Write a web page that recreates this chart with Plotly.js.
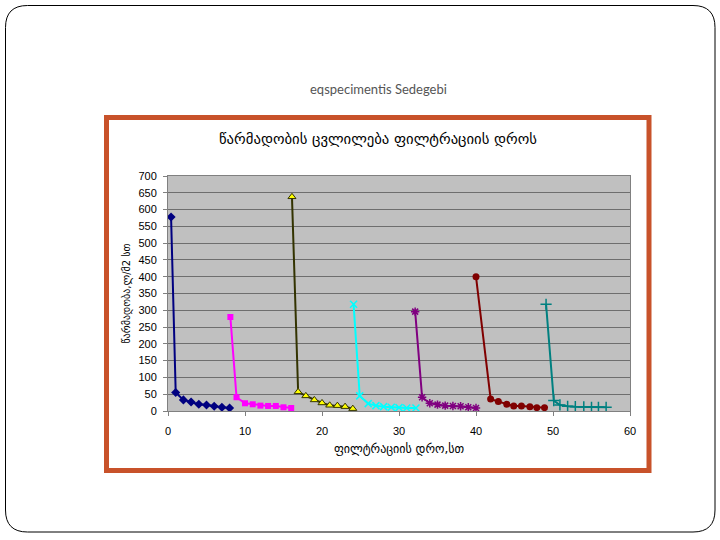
<!DOCTYPE html>
<html>
<head>
<meta charset="utf-8">
<script src="https://cdn.plot.ly/plotly-3.0.1.min.js"></script>
<style>
html,body{margin:0;padding:0;background:#fff;}
#chart{width:720px;height:540px;}
</style>
</head>
<body>
<div id="chart"></div>
<script>
// ---- data ----
const seriesNames = ["1", "2", "3", "4", "5", "6", "7"];
const x1 = [0.4, 1, 2, 3, 4, 5, 6, 7, 8];
const y1 = [578, 55, 33, 27, 20, 18, 14, 11, 9];
const x2 = [8.1, 8.9, 10, 11, 12, 13, 14, 15, 16];
const y2 = [280, 41, 23, 20, 16, 15, 15, 11, 9];
const x3 = [16.1, 16.9, 17.9, 19, 20, 21, 22, 23, 24];
const y3 = [638, 57, 45, 33, 24, 17, 16, 13, 7];
const x4 = [24.1, 24.9, 26, 27, 28, 29, 30, 31, 32.2];
const y4 = [318, 45, 22, 16, 13, 11, 10, 9, 9];
const x5 = [32.1, 33, 34, 35, 36, 37, 38, 39, 40];
const y5 = [296, 41, 23, 19, 16, 15, 14, 11, 9];
const x6 = [40, 41.9, 42.9, 44, 44.9, 45.9, 47, 47.9, 48.9];
const y6 = [400, 36, 28, 20, 15, 15, 13, 10, 10];
const x7 = [49.1, 50.1, 50.9, 51.9, 52.9, 54, 55, 55.9, 56.9];
const y7 = [318, 31, 18, 14, 13, 12, 11, 11, 11];

const slideTitle = "eqspecimentis Sedegebi";
const chartTitle = "წარმადობის ცვლილება ფილტრაციის დროს";
const xTitle = "ფილტრაციის დრო,სთ";
const yTitle = "წარმადობა,ლ/მ2 სთ";

// ---- layout helpers (pixel -> paper) ----
const L = 168, R = 630, T = 176, B = 411;
const px = v => (v - L) / (R - L);
const py = v => (B - v) / (B - T);

function roundRect(x0, y0, x1, y1, r) {
  return "M" + px(x0 + r) + "," + py(y0) +
    " L" + px(x1 - r) + "," + py(y0) +
    " Q" + px(x1) + "," + py(y0) + " " + px(x1) + "," + py(y0 + r) +
    " L" + px(x1) + "," + py(y1 - r) +
    " Q" + px(x1) + "," + py(y1) + " " + px(x1 - r) + "," + py(y1) +
    " L" + px(x0 + r) + "," + py(y1) +
    " Q" + px(x0) + "," + py(y1) + " " + px(x0) + "," + py(y1 - r) +
    " L" + px(x0) + "," + py(y0 + r) +
    " Q" + px(x0) + "," + py(y0) + " " + px(x0 + r) + "," + py(y0) + " Z";
}

const traces = [
  {x: x1, y: y1, name: seriesNames[0], mode: "lines+markers",
   line: {color: "#000080", width: 2}, marker: {symbol: "diamond", size: 7, color: "#000080"}},
  {x: x2, y: y2, name: seriesNames[1], mode: "lines+markers",
   line: {color: "#FF00FF", width: 2}, marker: {symbol: "square", size: 6, color: "#FF00FF"}},
  {x: x3, y: y3, name: seriesNames[2], mode: "lines+markers",
   line: {color: "#333300", width: 2}, marker: {symbol: "triangle-up", size: 7, color: "#FFFF00", line: {color: "#333300", width: 1}}},
  {x: x4, y: y4, name: seriesNames[3], mode: "lines+markers",
   line: {color: "#00FFFF", width: 2}, marker: {symbol: "x-thin-open", size: 7, color: "#00FFFF", line: {color: "#00FFFF", width: 1.5}}},
  {x: x5, y: y5, name: seriesNames[4], mode: "lines+markers",
   line: {color: "#800080", width: 2}, marker: {symbol: "asterisk-open", size: 7, color: "#800080", line: {color: "#800080", width: 1.5}}},
  {x: x6, y: y6, name: seriesNames[5], mode: "lines+markers",
   line: {color: "#800000", width: 2}, marker: {symbol: "circle", size: 7, color: "#800000"}},
  {x: x7, y: y7, name: seriesNames[6], mode: "lines+markers",
   line: {color: "#008080", width: 2}, marker: {symbol: "cross-thin-open", size: 8, color: "#008080", line: {color: "#008080", width: 1.5}}}
];

const layout = {
  width: 720, height: 540,
  margin: {l: L, r: 720 - R, t: T, b: 540 - B, pad: 0},
  paper_bgcolor: "#ffffff",
  plot_bgcolor: "#C0C0C0",
  showlegend: false,
  font: {family: "Liberation Sans, Arial, sans-serif", size: 11, color: "#000"},
  title: {
    text: chartTitle,
    font: {family: "DejaVu Sans, sans-serif", size: 14.7, color: "#000"},
    xref: "container", yref: "container",
    x: 378 / 720, y: 1 - 139 / 540, xanchor: "center", yanchor: "middle"
  },
  xaxis: {
    range: [0, 60], dtick: 10, tick0: 0,
    showgrid: false, zeroline: false,
    showline: true, linecolor: "#808080", linewidth: 1, mirror: true,
    ticks: "outside", ticklen: 4, tickcolor: "#808080",
    ticklabelstandoff: 6,
    tickfont: {family: "Liberation Sans, Arial, sans-serif", size: 11, color: "#000"},
    title: {text: xTitle, standoff: 8,
      font: {family: "DejaVu Sans, sans-serif", size: 12, color: "#000"}}
  },
  yaxis: {
    range: [0, 700], dtick: 50, tick0: 0,
    showgrid: true, gridcolor: "#6E6E6E", gridwidth: 1, zeroline: false,
    showline: true, linecolor: "#808080", linewidth: 1, mirror: true,
    ticks: "outside", ticklen: 4, tickcolor: "#808080",
    ticklabelstandoff: 4,
    tickfont: {family: "Liberation Sans, Arial, sans-serif", size: 11, color: "#000"},
    title: {text: yTitle, standoff: 5,
      font: {family: "DejaVu Sans, sans-serif", size: 10, color: "#000"}}
  },
  annotations: [
    {text: slideTitle, xref: "paper", yref: "paper", x: px(378), y: py(89),
     xanchor: "center", yanchor: "middle", showarrow: false,
     font: {family: "Lato, sans-serif", size: 13, color: "#555555"}}
  ],
  shapes: [
    {type: "path", xref: "paper", yref: "paper", path: roundRect(5.5, 5.5, 715, 532, 22),
     line: {color: "#000000", width: 1}, layer: "below"},
    {type: "rect", xref: "paper", yref: "paper",
     x0: px(106.5), x1: px(649), y0: py(117.5), y1: py(470.5),
     line: {color: "#C8522A", width: 5}, layer: "above"}
  ]
};

Plotly.newPlot("chart", traces, layout, {displayModeBar: false, staticPlot: true});
</script>
</body>
</html>
